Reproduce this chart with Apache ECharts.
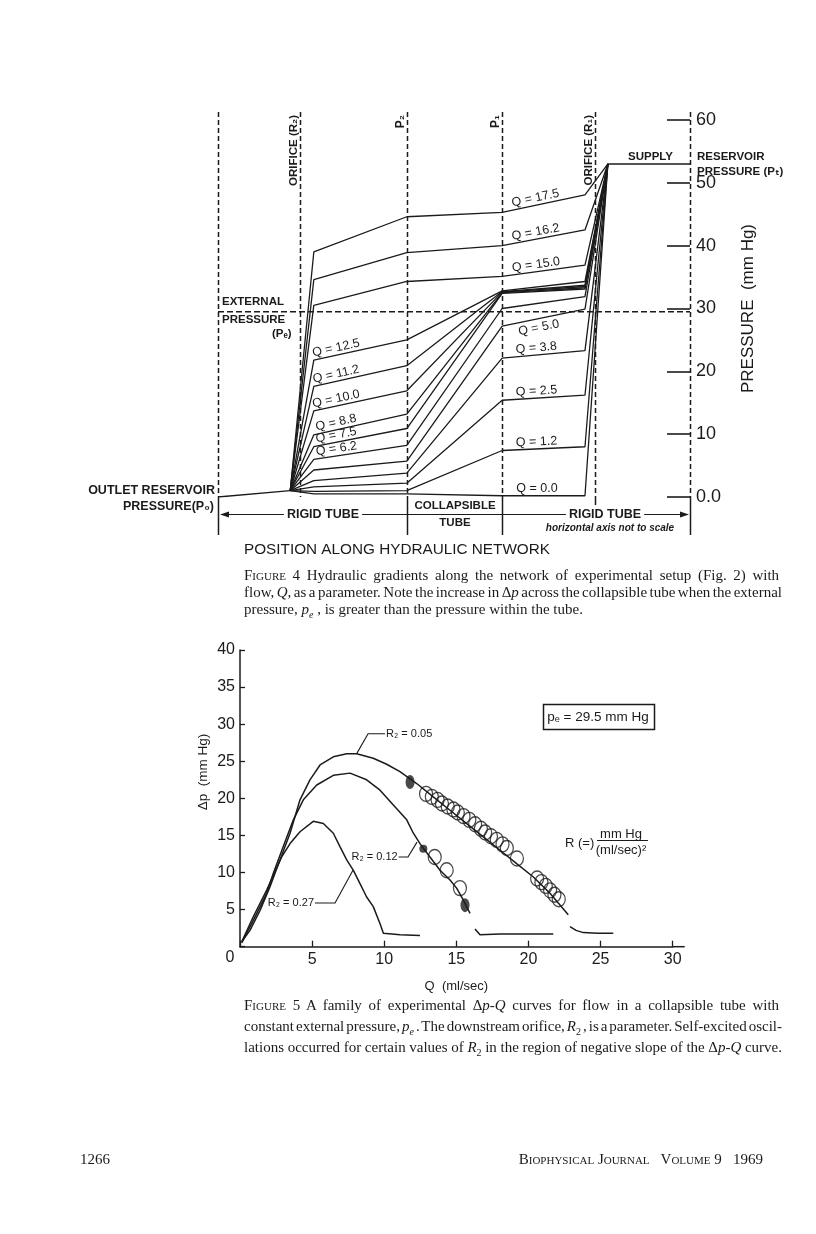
<!DOCTYPE html>
<html>
<head>
<meta charset="utf-8">
<script src="https://cdn.jsdelivr.net/npm/echarts@6/dist/echarts.min.js"></script>
<style>
  body { margin: 0; background: #fff; }
  #chart { position: absolute; left: 0; top: 0; width: 816px; height: 1234px; }
  .ln { position: absolute; left: 244px; width: 538px; white-space: nowrap;
        font-family: "Liberation Serif", serif; font-size: 15px; line-height: 18px; color: #1b1b1b; }
  .sc { font-variant: small-caps; }
  sub { font-size: 10px; line-height: 0; }
  .foot { position: absolute; top: 1151px; font-family: "Liberation Serif", serif; font-size: 15px; color: #1b1b1b; white-space: nowrap; }
</style>
</head>
<body>
<div id="chart"></div>

<div class="ln" style="top:566px"><span><span class="sc">Figure</span> 4  Hydraulic gradients along the network of experimental setup (Fig. 2) with</span></div>
<div class="ln" style="top:583px"><span>flow, <i>Q</i>, as a parameter. Note the increase in Δ<i>p</i> across the collapsible tube when the external</span></div>
<div class="ln" style="top:600px" data-last="1"><span>pressure, <i>p<sub>e</sub></i> , is greater than the pressure within the tube.</span></div>

<div class="ln" style="top:996px"><span><span class="sc">Figure</span> 5  A family of experimental Δ<i>p-Q</i> curves for flow in a collapsible tube with</span></div>
<div class="ln" style="top:1017px"><span>constant external pressure, <i>p<sub>e</sub></i> . The downstream orifice, <i>R</i><sub>2</sub> , is a parameter. Self-excited oscil-</span></div>
<div class="ln" style="top:1038px"><span>lations occurred for certain values of <i>R</i><sub>2</sub> in the region of negative slope of the Δ<i>p-Q</i> curve.</span></div>

<div class="foot" style="left:80px">1266</div>
<div class="foot sc" style="right:53px">Biophysical Journal&nbsp;&nbsp; Volume 9&nbsp;&nbsp; 1969</div>

<script>
// ---------- Figure 4: hydraulic gradients (horizontal axis not to scale) ----------
// station positions along the network, arbitrary units 0..100
const stOutlet = 0, stJunction = 15.3, stPostR2 = 20.3, stP2 = 40, stP1 = 60.2,
      stPreR1 = 77.75, stSupply = 82.6, stReservoir = 100;
const guideStations = [0, 17.4, 40, 60.2, 79.9, 100];

const flowQ   = [17.5, 16.2, 15.0, 12.5, 11.2, 10.0, 8.8, 7.5, 6.2, 5.0, 3.8, 2.5, 1.2, 0.0];
const pPostR2 = [39.0, 34.6, 30.5, 21.8, 17.6, 13.7, 9.9, 8.0, 6.0, 4.3, 2.6, 1.6, 0.9, 0.5];
const pAtP2   = [44.6, 38.9, 34.3, 25.0, 20.9, 16.9, 13.2, 10.9, 8.2, 5.7, 3.8, 2.2, 1.0, 0.5];
const pAtP1   = [45.3, 40.0, 35.1, 32.8, 32.7, 32.6, 32.5, 32.4, 30.0, 27.2, 22.1, 15.4, 7.4, 0.2];
const pPreR1  = [48.1, 42.5, 36.9, 34.3, 33.7, 33.5, 33.3, 33.1, 31.9, 29.9, 23.3, 16.2, 8.0, 0.2];
const labelSide = ['R', 'R', 'R', 'L', 'L', 'L', 'L', 'L', 'L', 'R', 'R', 'R', 'R', 'R'];
const labelLift = [7, 7, 7, 7, 7, 7, 7, 7, 7, -9, 7, 7, 7, 7];

const outletPressure = 0.0, junctionPressure = 1.0, supplyPressure = 53.0, externalPressure = 29.5;
const pressureTicks = [0, 10, 20, 30, 40, 50, 60];

// ---------- Figure 5: delta p - Q curves ----------
const curveR005 = [[0.12,0.67],[0.69,2.2],[1.39,4.9],[2.08,8.1],[2.77,11.7],[3.47,15.3],[4.16,19.8],[4.85,22.5],
  [5.55,24.5],[6.47,25.6],[7.40,26.0],[8.09,26.0],[9.24,25.4],[10.17,24.6],[11.09,23.6],[12.25,22.0],[13.40,20.2],
  [14.56,18.4],[15.72,16.6],[16.87,14.8],[18.03,13.0],[19.18,11.2],[20.34,9.4],[21.49,7.2],[22.76,4.3],
  null,[22.88,2.7],[23.3,2.2],[23.8,1.9],[24.8,1.8],[25.88,1.8]];
const curveR012 = [[0.12,0.5],[0.46,1.8],[1.16,4.5],[1.85,7.2],[2.31,9.9],[3.0,13.5],[3.70,17.1],[4.39,19.8],
  [5.32,21.8],[6.47,23.1],[7.63,23.4],[8.78,22.5],[9.71,21.1],[10.63,19.1],[11.56,17.1],[12.02,15.3],[12.48,13.9],
  [13.17,12.1],[13.87,10.3],[14.56,9.0],[15.02,7.9],[15.48,6.3],[15.95,4.5],null,[16.29,2.4],[16.64,1.6],
  [18.03,1.7],[20.34,1.7],[21.72,1.7]];
const curveR027 = [[0.12,0.67],[0.92,4.04],[1.85,7.63],[2.4,10.0],[2.89,12.1],[3.47,13.9],[4.16,15.5],[5.08,16.9],
  [5.78,16.6],[6.47,15.3],[6.93,13.5],[7.40,11.7],[7.86,10.3],[8.32,8.5],[8.78,6.7],[9.24,5.4],[9.71,3.1],
  [9.94,1.8],[11.1,1.6],[12.48,1.5]];
// self-excited oscillation loops
const loopsR005 = [[12.9,20.6],[13.3,20.2],[13.7,19.8],[14.0,19.3],[14.4,18.9],[14.8,18.5],[15.1,18.1],
  [15.5,17.6],[15.9,17.1],[16.3,16.5],[16.7,15.9],[17.0,15.4],[17.4,14.9],[17.8,14.4],[18.2,13.8],[18.5,13.3],
  [19.2,11.9],[20.6,9.2],[20.9,8.7],[21.2,8.2],[21.5,7.6],[21.8,7.0],[22.1,6.4]];
const loopsR012 = [[13.5,12.1],[14.33,10.3],[15.25,7.9]];
const bigBlobs = [[11.79,22.2],[15.6,5.6]];
const smallBlobs = [[12.71,13.2]];
const dpTicks = [0, 5, 10, 15, 20, 25, 30, 35, 40];
const qTicks = [0, 5, 10, 15, 20, 25, 30];

const leader005 = [[8.11,26.1],[8.88,28.7],[10.06,28.7]];
const leader012 = [[12.27,14.1],[11.65,12.1],[11.0,12.1]];
const leader027 = [[7.84,10.35],[6.59,5.9],[5.2,5.9]];

const INK = '#1b1b1b';
const SANS = "'Liberation Sans', 'DejaVu Sans', sans-serif";

const chart = echarts.init(document.getElementById('chart'));

const gradientSeries = flowQ.map((q, i) => ({
  name: 'Q = ' + q.toFixed(1),
  type: 'line', xAxisIndex: 0, yAxisIndex: 0, symbol: 'none', silent: true,
  lineStyle: { color: INK, width: 1.3 },
  data: [[stJunction, junctionPressure], [stPostR2, pPostR2[i]], [stP2, pAtP2[i]],
         [stP1, pAtP1[i]], [stPreR1, pPreR1[i]], [stSupply, supplyPressure]]
}));

const curveStyle = { color: INK, width: 1.5 };

chart.setOption({
  animation: false,
  grid: [
    { left: 218, right: 126, top: 120, bottom: 737 },
    { left: 240, right: 143.3, top: 650, bottom: 287.3 }
  ],
  xAxis: [
    { gridIndex: 0, type: 'value', min: stOutlet, max: stReservoir, show: false },
    { gridIndex: 1, type: 'value', min: qTicks[0], max: qTicks[qTicks.length - 1], interval: 5,
      name: 'Q  (ml/sec)', nameLocation: 'middle', nameGap: 33,
      nameTextStyle: { fontFamily: SANS, fontSize: 13, color: INK },
      axisLine: { lineStyle: { color: INK, width: 1.5 } },
      axisTick: { inside: true, length: 6, lineStyle: { color: INK, width: 1.3 } },
      axisLabel: { fontFamily: SANS, fontSize: 16, color: INK, margin: 5,
        formatter: v => v === 0 ? '' : String(v) },
      splitLine: { show: false } }
  ],
  yAxis: [
    { gridIndex: 0, type: 'value', position: 'right', min: pressureTicks[0],
      max: pressureTicks[pressureTicks.length - 1], interval: 10,
      name: 'PRESSURE  (mm Hg)', nameLocation: 'middle', nameRotate: 90, nameGap: 50,
      nameTextStyle: { fontFamily: SANS, fontSize: 17, color: INK },
      axisLine: { show: false, onZero: false },
      axisTick: { inside: true, length: 23, lineStyle: { color: INK, width: 1.6 } },
      axisLabel: { fontFamily: SANS, fontSize: 18, color: INK, margin: 6,
        formatter: v => v === 0 ? '0.0' : String(v) },
      splitLine: { show: false } },
    { gridIndex: 1, type: 'value', min: dpTicks[0], max: dpTicks[dpTicks.length - 1], interval: 5,
      axisLine: { show: true, onZero: false, lineStyle: { color: INK, width: 1.5 } },
      axisTick: { inside: true, length: 5, lineStyle: { color: INK, width: 1.3 } },
      axisLabel: { fontFamily: SANS, fontSize: 16, color: INK, margin: 5,
        formatter: v => v === 0 ? '' : String(v) },
      splitLine: { show: false } }
  ],
  series: [
    { name: 'outlet', type: 'line', xAxisIndex: 0, yAxisIndex: 0, symbol: 'none', silent: true,
      lineStyle: { color: INK, width: 1.3 },
      data: [[stOutlet, outletPressure], [stJunction, junctionPressure]] },
    { name: 'supply', type: 'line', xAxisIndex: 0, yAxisIndex: 0, symbol: 'none', silent: true,
      lineStyle: { color: INK, width: 1.6 },
      data: [[stSupply, supplyPressure], [stReservoir, supplyPressure]] },
    { name: 'external', type: 'line', xAxisIndex: 0, yAxisIndex: 0, symbol: 'none', silent: true,
      lineStyle: { color: INK, width: 1.5, type: [6, 3] },
      data: [[stOutlet, externalPressure], [stReservoir, externalPressure]] },
    ...gradientSeries,
    { name: 'R2 = 0.05', type: 'line', xAxisIndex: 1, yAxisIndex: 1, symbol: 'none', silent: true,
      connectNulls: false, lineStyle: curveStyle, data: curveR005 },
    { name: 'R2 = 0.12', type: 'line', xAxisIndex: 1, yAxisIndex: 1, symbol: 'none', silent: true,
      connectNulls: false, lineStyle: curveStyle, data: curveR012 },
    { name: 'R2 = 0.27', type: 'line', xAxisIndex: 1, yAxisIndex: 1, symbol: 'none', silent: true,
      lineStyle: curveStyle, data: curveR027 },
    { name: 'loops', type: 'scatter', xAxisIndex: 1, yAxisIndex: 1, silent: true,
      symbol: 'circle', symbolSize: [13, 15],
      itemStyle: { color: 'rgba(255,255,255,0)', borderColor: INK, borderWidth: 1.3 },
      data: loopsR005.concat(loopsR012) },
    { name: 'blobs', type: 'scatter', xAxisIndex: 1, yAxisIndex: 1, silent: true,
      symbol: 'circle', symbolSize: [9, 14], itemStyle: { color: INK }, data: bigBlobs },
    { name: 'blobs small', type: 'scatter', xAxisIndex: 1, yAxisIndex: 1, silent: true,
      symbol: 'circle', symbolSize: [8, 8], itemStyle: { color: INK }, data: smallBlobs }
  ]
});

// ---------- annotations ----------
const px4 = (x, y) => chart.convertToPixel({ xAxisIndex: 0, yAxisIndex: 0 }, [x, y]);
const px5 = (x, y) => chart.convertToPixel({ xAxisIndex: 1, yAxisIndex: 1 }, [x, y]);

function txt(x, y, text, size, opts) {
  opts = opts || {};
  return {
    type: 'text', x: x, y: y, rotation: opts.rot || 0, silent: true, z: 50,
    style: {
      text: text, fill: INK,
      font: (opts.style || '') + ' ' + (opts.weight || 'normal') + ' ' + size + 'px ' + SANS,
      textAlign: opts.align || 'left', align: opts.align || 'left',
      textVerticalAlign: 'middle', verticalAlign: 'middle',
      backgroundColor: opts.bg, padding: opts.bg ? [0, 3] : 0
    }
  };
}
function seg(x1, y1, x2, y2, dash, w) {
  return { type: 'line', silent: true, z: 40,
    shape: { x1: x1, y1: y1, x2: x2, y2: y2 },
    style: { stroke: INK, lineWidth: w || 1.5, lineDash: dash || null } };
}

const g = [];
const yTop = 112, yZero = px4(0, 0)[1];
const guideBottom = [535, yZero, 535, 535, 505, 535];
guideStations.forEach((s, i) => {
  const x = Math.round(px4(s, 0)[0]) + 0.5;
  g.push(seg(x, yTop, x, Math.min(yZero, guideBottom[i]), [5, 3]));
  if (guideBottom[i] > yZero) g.push(seg(x, yZero, x, guideBottom[i]));
});

// Q labels, laid along their segments
flowQ.forEach((q, i) => {
  const left = labelSide[i] === 'L';
  const a = left ? px4(stPostR2, pPostR2[i]) : px4(stP1, pAtP1[i]);
  const b = left ? px4(stP2, pAtP2[i]) : px4(stPreR1, pPreR1[i]);
  const t = left ? 0.255 : 0.42;
  const cx = a[0] + (b[0] - a[0]) * t, cy = a[1] + (b[1] - a[1]) * t;
  const ang = Math.atan2(a[1] - b[1], b[0] - a[0]);
  const lift = labelLift[i];
  g.push(txt(cx - Math.sin(ang) * lift, cy - Math.cos(ang) * lift, 'Q = ' + q.toFixed(1), 12.5,
    { align: 'center', rot: ang }));
});

// station titles (rotated)
g.push(txt(294, 115, 'ORIFICE (R₂)', 11.5, { weight: 'bold', rot: Math.PI / 2, align: 'right' }));
g.push(txt(401, 115, 'P₂', 12, { weight: 'bold', rot: Math.PI / 2, align: 'right' }));
g.push(txt(496, 115, 'P₁', 12, { weight: 'bold', rot: Math.PI / 2, align: 'right' }));
g.push(txt(589, 115, 'ORIFICE (R₁)', 11.5, { weight: 'bold', rot: Math.PI / 2, align: 'right' }));

g.push(txt(628, 157, 'SUPPLY', 11.5, { weight: 'bold' }));
g.push(txt(697, 157, 'RESERVOIR', 11.5, { weight: 'bold' }));
g.push(txt(697, 172, 'PRESSURE (Pₜ)', 11.5, { weight: 'bold' }));
g.push(txt(222, 302, 'EXTERNAL', 11.5, { weight: 'bold' }));
g.push(txt(222, 320, 'PRESSURE', 11.5, { weight: 'bold' }));
g.push(txt(272, 334, '(Pₑ)', 11.5, { weight: 'bold' }));
g.push(txt(215, 491, 'OUTLET RESERVOIR', 12.5, { weight: 'bold', align: 'right' }));
g.push(txt(214, 507, 'PRESSURE(P₀)', 12.5, { weight: 'bold', align: 'right' }));

// tube segments under the network
const yTube = 514.5;
g.push(seg(222, yTube, 686, yTube, null, 1.2));
g.push({ type: 'polygon', silent: true, z: 41, shape: { points: [[220, yTube], [229, yTube - 3], [229, yTube + 3]] }, style: { fill: INK } });
g.push({ type: 'polygon', silent: true, z: 41, shape: { points: [[689, yTube], [680, yTube - 3], [680, yTube + 3]] }, style: { fill: INK } });
g.push(txt(323, 515, 'RIGID TUBE', 12.5, { weight: 'bold', align: 'center', bg: '#fff' }));
g.push(txt(605, 515, 'RIGID TUBE', 12.5, { weight: 'bold', align: 'center', bg: '#fff' }));
g.push(txt(455, 506, 'COLLAPSIBLE', 11.5, { weight: 'bold', align: 'center' }));
g.push(txt(455, 523, 'TUBE', 11.5, { weight: 'bold', align: 'center' }));
g.push(txt(610, 528, 'horizontal axis not to scale', 10, { weight: 'bold', style: 'italic', align: 'center' }));
g.push(txt(244, 550, 'POSITION ALONG HYDRAULIC NETWORK', 15.3));

// figure 5 annotations
const xEnd = px5(30, 0);
g.push(seg(xEnd[0], xEnd[1], xEnd[0] + 12, xEnd[1]));
g.push(txt(203, 772, 'Δp  (mm Hg)', 13.5, { rot: Math.PI / 2, align: 'center' }));
g.push(txt(px5(0, 0)[0] - 10, 958, '0', 16, { align: 'center' }));
g.push({ type: 'rect', silent: true, z: 40, shape: { x: 543.5, y: 704.5, width: 111, height: 25 },
  style: { fill: 'none', stroke: INK, lineWidth: 1.5 } });
g.push(txt(598, 717, 'pₑ = 29.5 mm Hg', 13.5, { align: 'center' }));
g.push(txt(565, 843, 'R (=)', 13));
g.push(txt(621, 834, 'mm Hg', 13, { align: 'center' }));
g.push(seg(597, 840.5, 648, 840.5, null, 1.2));
g.push(txt(621, 850, '(ml/sec)²', 13, { align: 'center' }));

[[leader005, 'R₂ = 0.05', 'left'], [leader012, 'R₂ = 0.12', 'right'], [leader027, 'R₂ = 0.27', 'right']]
  .forEach(([pts, label, align]) => {
    const p = pts.map(d => px5(d[0], d[1]));
    g.push({ type: 'polyline', silent: true, z: 40, shape: { points: p },
      style: { stroke: INK, lineWidth: 1.1, fill: 'none' } });
    const end = p[p.length - 1];
    g.push(txt(end[0] + (align === 'left' ? 1 : -1), end[1], label, 11, { align: align }));
  });

chart.setOption({ graphic: { elements: g } });

// justify caption lines to the column width
document.querySelectorAll('.ln').forEach(el => {
  const span = el.firstElementChild;
  const w = span.getBoundingClientRect().width;
  const n = (span.textContent.match(/ /g) || []).length;
  if (!el.dataset.last && n) el.style.wordSpacing = ((538 - w) / n) + 'px';
});
</script>
</body>
</html>
